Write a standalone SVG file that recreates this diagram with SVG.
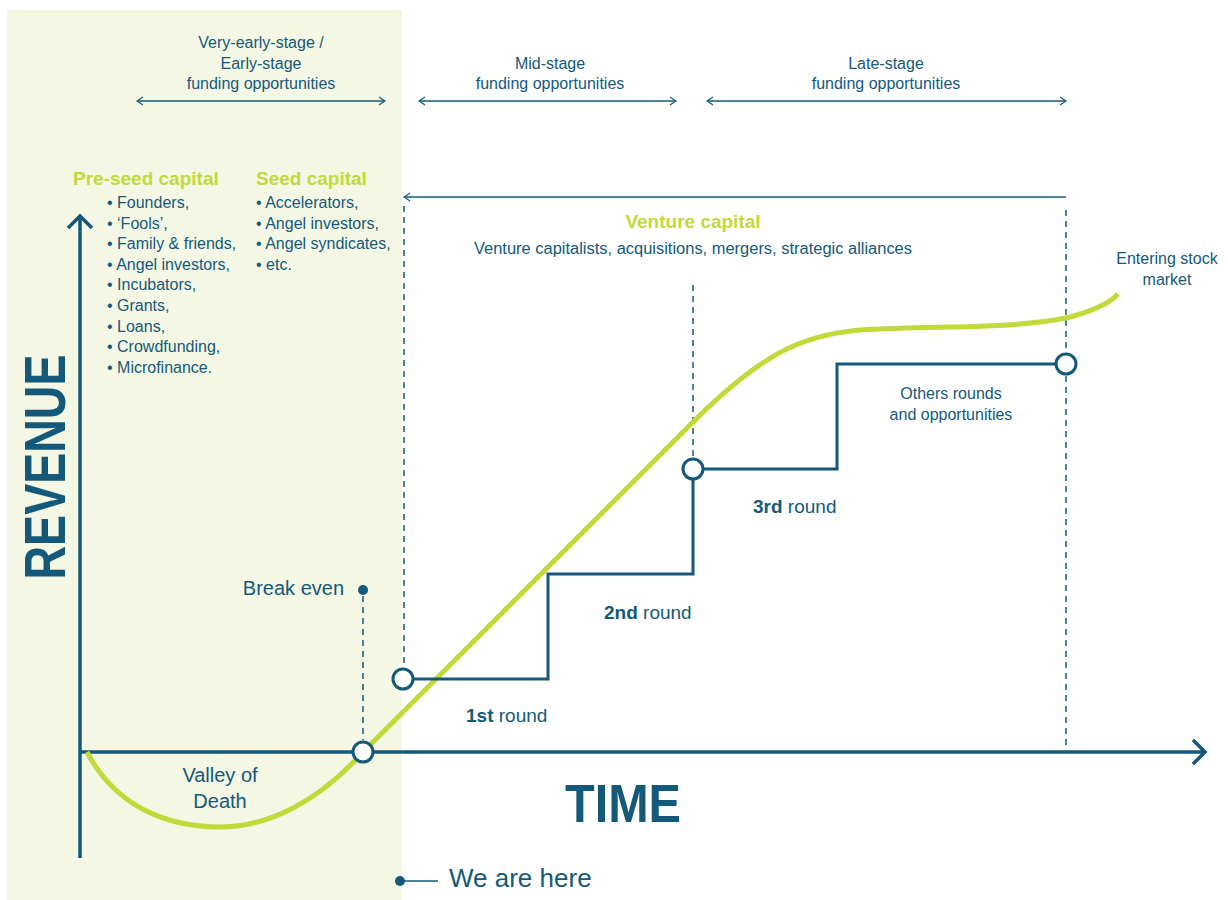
<svg xmlns="http://www.w3.org/2000/svg" width="1228" height="900" viewBox="0 0 1228 900">
<defs>
<style>
.t{font-family:"Liberation Sans",Arial,sans-serif;fill:#14597a;font-size:16px}
.c{text-anchor:middle}
.g{font-family:"Liberation Sans",Arial,sans-serif;fill:#c2d93a;font-size:19px;font-weight:bold}
.b{font-weight:bold}
.f19{font-size:19px}
.f20{font-size:20px}
.thin{stroke:#14597a;stroke-width:1.3;fill:none}
.dash{stroke:#14597a;stroke-width:1.5;stroke-dasharray:6 5;fill:none}
.axis{stroke:#14597a;stroke-width:3.5;fill:none}
.step{stroke:#14597a;stroke-width:3;fill:none}
.node{fill:#fff;stroke:#14597a;stroke-width:3}
</style>
<marker id="oa" viewBox="0 0 10 10" refX="9" refY="5" markerWidth="10" markerHeight="10" markerUnits="userSpaceOnUse" orient="auto-start-reverse">
<path d="M3,1 L9,5 L3,9" fill="none" stroke="#14597a" stroke-width="1.3"/>
</marker>
</defs>
<rect x="0" y="0" width="1228" height="900" fill="#fff"/>
<rect id="early-panel" x="7" y="10" width="395" height="890" fill="#f4f7e3"/>

<g id="connectors">
<line class="thin" x1="137" y1="101" x2="385" y2="101" marker-start="url(#oa)" marker-end="url(#oa)"/>
<line class="thin" x1="419" y1="101" x2="676" y2="101" marker-start="url(#oa)" marker-end="url(#oa)"/>
<line class="thin" x1="707" y1="101" x2="1066" y2="101" marker-start="url(#oa)" marker-end="url(#oa)"/>
<line class="thin" x1="404" y1="197" x2="1066" y2="197" marker-start="url(#oa)"/>
<line class="dash" x1="404" y1="206" x2="404" y2="668"/>
<line class="dash" x1="693" y1="285" x2="693" y2="458"/>
<line class="dash" x1="1066" y1="210" x2="1066" y2="352"/>
<line class="dash" x1="1066" y1="376" x2="1066" y2="750"/>
<line class="dash" x1="363" y1="596" x2="363" y2="740"/>
<path class="axis" d="M80,858 V217 M68,228 L80,216 L92,228"/>
<path class="axis" d="M80,752 H1205 M1193,740 L1205,752 L1193,764"/>
<path d="M87,752 C120,815 180,827 220,827 C270,827 320,800 363,752 L690,425 C760,355 800,335 860,330 C940,325 1000,330 1066,318 C1090,312 1108,305 1118,294" fill="none" stroke="#c2d93a" stroke-width="5"/>
<path class="step" d="M413,679 H548 V574 H693 V469 M703,469 H837 V364 H1056"/>
<line x1="400" y1="881" x2="438" y2="881" stroke="#14597a" stroke-width="1.3"/>
</g>

<g id="node-breakeven-dot"><circle cx="363" cy="590" r="5" fill="#14597a"/></g>
<g id="node-here-dot"><circle cx="400" cy="881" r="5" fill="#14597a"/></g>
<g id="node-breakeven"><circle class="node" cx="363" cy="752" r="10"/></g>
<g id="node-round1"><circle class="node" cx="403" cy="679" r="10"/></g>
<g id="node-round3"><circle class="node" cx="693" cy="469" r="10"/></g>
<g id="node-stock"><circle class="node" cx="1066" cy="364" r="10"/></g>

<g id="labels-stages">
<text class="t c" x="261" y="48">Very-early-stage /</text>
<text class="t c" x="261" y="69">Early-stage</text>
<text class="t c" x="261" y="89">funding opportunities</text>
<text class="t c" x="550" y="69">Mid-stage</text>
<text class="t c" x="550" y="89">funding opportunities</text>
<text class="t c" x="886" y="69">Late-stage</text>
<text class="t c" x="886" y="89">funding opportunities</text>
</g>

<g id="pre-seed">
<text class="g" x="73" y="185">Pre-seed capital</text>
<text class="t" x="107" y="208">• Founders,</text>
<text class="t" x="107" y="229">• ‘Fools’,</text>
<text class="t" x="107" y="249">• Family &amp; friends,</text>
<text class="t" x="107" y="270">• Angel investors,</text>
<text class="t" x="107" y="290">• Incubators,</text>
<text class="t" x="107" y="311">• Grants,</text>
<text class="t" x="107" y="332">• Loans,</text>
<text class="t" x="107" y="352">• Crowdfunding,</text>
<text class="t" x="107" y="373">• Microfinance.</text>
</g>

<g id="seed">
<text class="g" x="256" y="185">Seed capital</text>
<text class="t" x="256" y="208">• Accelerators,</text>
<text class="t" x="256" y="229">• Angel investors,</text>
<text class="t" x="256" y="249">• Angel syndicates,</text>
<text class="t" x="256" y="270">• etc.</text>
</g>

<g id="venture">
<text class="g c" x="693" y="228">Venture capital</text>
<text class="t c" x="693" y="254" textLength="438" lengthAdjust="spacingAndGlyphs">Venture capitalists, acquisitions, mergers, strategic alliances</text>
</g>

<g id="stock-label">
<text class="t c" x="1167" y="264">Entering stock</text>
<text class="t c" x="1167" y="285">market</text>
</g>

<text class="t b c" transform="translate(65,467) rotate(-90)" style="font-size:58px" textLength="225" lengthAdjust="spacingAndGlyphs">REVENUE</text>
<text class="t b c" x="623" y="822" style="font-size:54px" textLength="116" lengthAdjust="spacingAndGlyphs">TIME</text>

<text class="t f20" x="344" y="595" text-anchor="end">Break even</text>
<text class="t c f20" x="220" y="782">Valley of</text>
<text class="t c f20" x="220" y="808">Death</text>
<text class="t" x="449" y="887" style="font-size:26px">We are here</text>

<text class="t f19" x="466" y="722"><tspan class="b">1st</tspan> round</text>
<text class="t f19" x="604" y="619"><tspan class="b">2nd</tspan> round</text>
<text class="t f19" x="753" y="513"><tspan class="b">3rd</tspan> round</text>
<text class="t c" x="951" y="399">Others rounds</text>
<text class="t c" x="951" y="420">and opportunities</text>
</svg>
